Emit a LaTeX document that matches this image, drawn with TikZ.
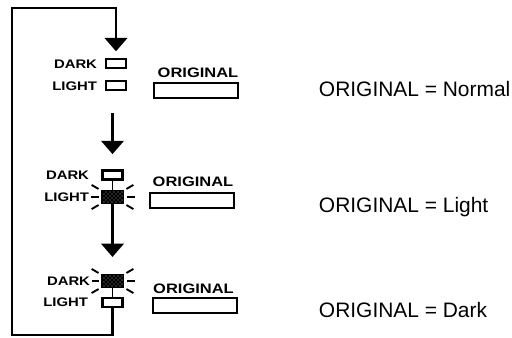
\documentclass[tikz,border=0pt]{standalone}
\usepackage{fontspec}
\setmainfont{Liberation Sans}
\newfontfamily\lblfont{Liberation Sans}[FakeStretch=1.2]
\usetikzlibrary{arrows.meta,patterns,calc}

\tikzset{every picture/.style={line width=1.5pt}}
\tikzset{
  lamp/.style={draw, line width=1.6pt, minimum width=15pt, minimum height=6.75pt, inner sep=0pt},
  litlamp/.style={lamp, minimum height=8.5pt, fill=black, postaction={pattern=crosshatch dots, pattern color=gray!70}},
  lbl/.style={anchor=east, inner sep=0.75pt, font=\lblfont\bfseries\fontsize{9.3}{11}\selectfont},
  origlbl/.style={inner sep=0.75pt, font=\lblfont\bfseries\fontsize{10.3}{12}\selectfont},
  origbox/.style={draw, line width=1.6pt, minimum width=63pt, minimum height=11.5pt, inner sep=0pt},
  state/.style={anchor=west, inner sep=0.75pt, font=\fontsize{15.7}{18}\selectfont},
  flow/.style={line width=1.6pt, line join=miter, -{Triangle[width=17pt,length=10pt]}},
  ray/.style={line width=1.4pt},
  link/.style={line width=0.75pt},
}
% blinking rays round a lit lamp
\newcommand{\flash}[1]{%
  \foreach \a in {0,30,150,210,330}
    \draw[ray] ($(#1.\a)!-2.5pt!(#1.center)$) -- ($(#1.\a)!-8.5pt!(#1.center)$);
}

\begin{document}
\begin{tikzpicture}[x=0.75pt,y=0.75pt,yscale=-1,xscale=1]
\useasboundingbox (0,0) rectangle (512,338);

% first step: ORIGINAL = Normal
\node[lamp] (dark1) at (116,63.5) {};
\node[lamp] (light1) at (116,85.5) {};
\node[lbl] (darklbl1) at (99,64) {DARK};
\node[lbl] (lightlbl1) at (99,86) {LIGHT};
\node[origlbl] (orig1) at (198,73) {ORIGINAL};
\node[origbox] (box1) at (196,90.5) {};
\node[state] (state1) at (317,89) {ORIGINAL = Normal};

% second step: ORIGINAL = Light
\node[lamp] (dark2) at (112.5,175) {};
\node[litlamp] (light2) at (112.5,197) {};
\node[lbl] (darklbl2) at (91,175) {DARK};
\node[lbl] (lightlbl2) at (91,197) {LIGHT};
\node[origlbl] (orig2) at (193,182) {ORIGINAL};
\node[origbox] (box2) at (192,200.5) {};
\node[state] (state2) at (317,207) {ORIGINAL = Light};
\draw[link] (dark2.south) -- (light2.north);
\flash{light2}
\draw[ray] (lightlbl2.east) -- ($(light2.west)+(-2pt,0)$);

% third step: ORIGINAL = Dark
\node[litlamp] (dark3) at (112.5,281) {};
\node[lamp] (light3) at (112.5,302.5) {};
\node[lbl] (darklbl3) at (92,281) {DARK};
\node[lbl] (lightlbl3) at (90,302.5) {LIGHT};
\node[origlbl] (orig3) at (193.5,288.5) {ORIGINAL};
\node[origbox] (box3) at (195,305.5) {};
\node[state] (state3) at (317,310) {ORIGINAL = Dark};
\draw[link] (dark3.south) -- (light3.north);
\flash{dark3}
\draw[ray] (darklbl3.east) -- ($(dark3.west)+(-2pt,0)$);

% arrows between the steps
\coordinate (loopbl) at (12,335);
\coordinate (looptop) at (116,8);
\draw[flow, shorten <=16.5pt, shorten >=11.5pt] (dark2.north |- light1.south) -- (dark2.north);
\draw[flow, shorten >=13pt] (light2.south) -- (dark3.north);
\draw[flow, shorten >=5pt] (light3.south) |- (loopbl) |- (looptop) -- (dark1.north);

\end{tikzpicture}
\end{document}
